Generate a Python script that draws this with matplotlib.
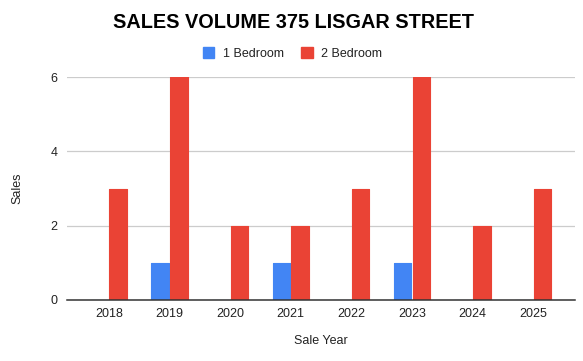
import matplotlib.pyplot as plt
import numpy as np
from matplotlib.patches import Patch

# data
years = ['2018', '2019', '2020', '2021', '2022', '2023', '2024', '2025']
one_bedroom = [0, 1, 0, 1, 0, 1, 0, 0]
two_bedroom = [3, 6, 2, 2, 3, 6, 2, 3]

blue = '#4285f4'
red = '#ea4335'

plt.rcParams['font.family'] = ['Liberation Sans', 'DejaVu Sans']

fig = plt.figure(figsize=(5.83, 3.61), dpi=100)
ax = fig.add_axes([67 / 583, 61 / 361, 508 / 583, 223 / 361])

x = np.arange(len(years))
w = 0.29
ax.bar(x - 0.155, one_bedroom, w, color=blue, edgecolor=blue, linewidth=0.8,
       joinstyle='round', zorder=3)
ax.bar(x + 0.155, two_bedroom, w, color=red, edgecolor=red, linewidth=0.8,
       joinstyle='round', zorder=3)

ax.set_xlim(-0.69, len(years) - 1 + 0.69)
ax.set_ylim(0, 6)
ax.set_yticks([0, 2, 4, 6])
ax.set_xticks(x)
ax.set_xticklabels(years)
ax.grid(axis='y', color='#cccccc', linewidth=0.9, zorder=0)
for s in ['top', 'right', 'left']:
    ax.spines[s].set_visible(False)
ax.spines['bottom'].set_color('#333333')
ax.spines['bottom'].set_linewidth(1.1)
ax.spines['bottom'].set_zorder(4)
ax.tick_params(length=0, labelsize=9, colors='#222222', pad=6)
ax.tick_params(axis='y', pad=7)

# axis titles placed in figure pixels
fig.text(17 / 583, 1 - 188 / 361, 'Sales', rotation=90, ha='center', va='center',
         fontsize=9, color='#222222')
fig.text(321 / 583, 1 - 341 / 361, 'Sale Year', ha='center', va='center',
         fontsize=9, color='#222222')

fig.text(0.503, 0.937, 'SALES VOLUME 375 LISGAR STREET', ha='center', va='center',
         fontsize=14.3, fontweight='bold', color='#000000')

handles = [Patch(color=blue, label='1 Bedroom'), Patch(color=red, label='2 Bedroom')]
fig.legend(handles=handles, loc='center', bbox_to_anchor=(0.502, 0.852), ncol=2,
           frameon=False, fontsize=9, handlelength=0.9, handleheight=0.9,
           handletextpad=0.7, columnspacing=1.4, labelcolor='#222222')

fig.savefig('out.png', dpi=100)
